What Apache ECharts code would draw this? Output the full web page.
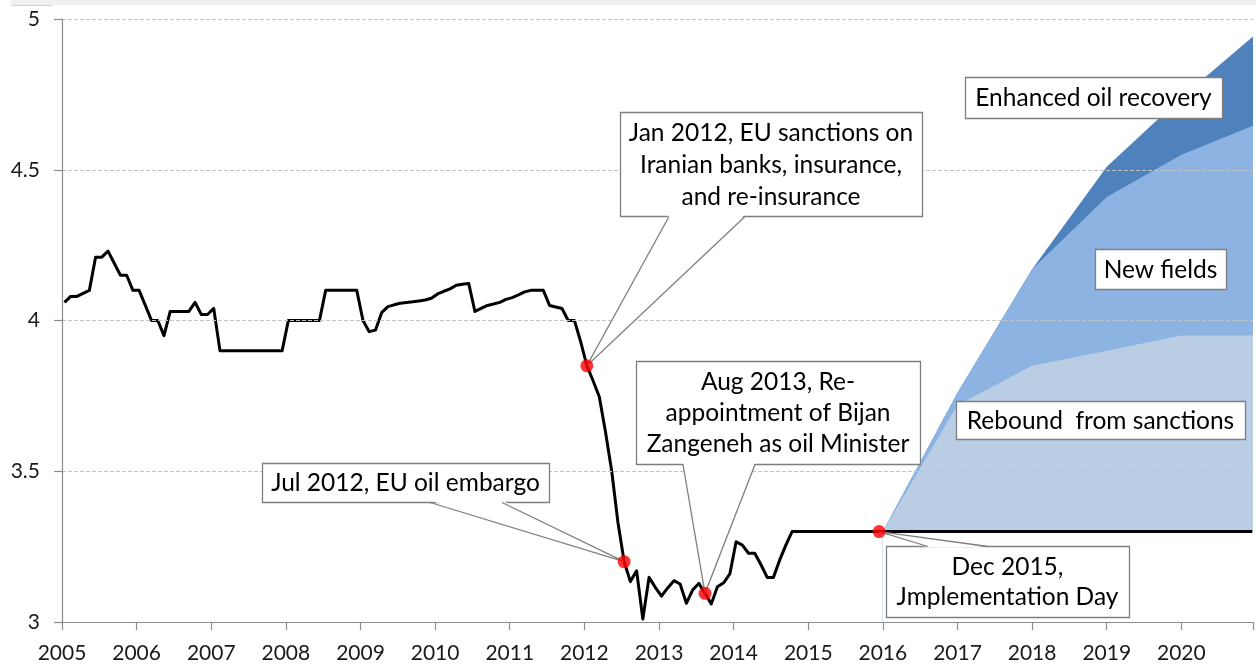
<!DOCTYPE html>
<html><head><meta charset="utf-8">
<script src="https://cdn.jsdelivr.net/npm/echarts@6/dist/echarts.min.js"></script>
<style>html,body{margin:0;padding:0;background:#fff}#c{width:1256px;height:664px}</style>
</head><body><div id="c"></div>
<script>
// ---------- data ----------
const startYear = 2005;
const xTickYears = [2005,2006,2007,2008,2009,2010,2011,2012,2013,2014,2015,2016,2017,2018,2019,2020];
const yTicks = [3, 3.5, 4, 4.5, 5];

const p2005 = [4.06,4.08,4.08,4.09,4.10,4.21,4.21,4.23,4.19,4.15,4.15,4.10];
const p2006 = [4.10,4.05,4.00,4.00,3.95,4.03,4.03,4.03,4.03,4.06,4.02,4.02];
const p2007 = [4.04,3.90,3.90,3.90,3.90,3.90,3.90,3.90,3.90,3.90,3.90,3.90];
const p2008 = [4.00,4.00,4.00,4.00,4.00,4.00,4.10,4.10,4.10,4.10,4.10,4.10];
const p2009 = [4.00,3.963,3.968,4.026,4.046,4.052,4.057,4.06,4.062,4.065,4.068,4.074];
const p2010 = [4.088,4.097,4.105,4.117,4.12,4.123,4.03,4.04,4.05,4.055,4.06,4.07];
const p2011 = [4.076,4.085,4.095,4.10,4.10,4.10,4.05,4.045,4.04,4.00,4.00,3.93];
const p2012 = [3.85,3.80,3.747,3.63,3.50,3.33,3.20,3.134,3.17,3.01,3.148,3.115];
const p2013 = [3.086,3.113,3.137,3.126,3.062,3.106,3.128,3.095,3.06,3.117,3.13,3.16];
const p2014 = [3.266,3.255,3.228,3.228,3.19,3.148,3.148,3.205,3.255,3.30,3.30,3.30];
const p2015 = [3.30,3.30,3.30,3.30,3.30,3.30,3.30,3.30,3.30,3.30,3.30,3.30];
const p2016 = [3.30,3.30,3.30,3.30,3.30,3.30,3.30,3.30,3.30,3.30,3.30,3.30];
const p2017 = [3.30,3.30,3.30,3.30,3.30,3.30,3.30,3.30,3.30,3.30,3.30,3.30];
const p2018 = [3.30,3.30,3.30,3.30,3.30,3.30,3.30,3.30,3.30,3.30,3.30,3.30];
const p2019 = [3.30,3.30,3.30,3.30,3.30,3.30,3.30,3.30,3.30,3.30,3.30,3.30];
const p2020 = [3.30,3.30,3.30,3.30,3.30,3.30,3.30,3.30,3.30,3.30,3.30,3.30];

const forecastYears = [2016, 2017, 2018, 2019, 2020, 2021];
const forecastBase  = [3.30, 3.30, 3.30, 3.30, 3.30, 3.30];
const reboundTop    = [3.30, 3.72, 3.85, 3.90, 3.95, 3.95];
const newFieldsTop  = [3.30, 3.76, 4.17, 4.41, 4.55, 4.65];
const eorTop        = [3.30, 3.76, 4.17, 4.51, 4.74, 4.95];
const forecastLabels = ['Rebound  from sanctions', 'New fields', 'Enhanced oil recovery'];

const eventMonths = ['2012-01', '2012-07', '2013-08', '2015-12'];
const eventTexts = [
  'Jan 2012, EU sanctions on\nIranian banks, insurance,\nand re-insurance',
  'Jul 2012, EU oil embargo',
  'Aug 2013, Re-\nappointment of Bijan\nZangeneh as oil Minister',
  'Dec 2015,\nJmplementation Day'
];

// ---------- build ----------
const monthly = [].concat(p2005,p2006,p2007,p2008,p2009,p2010,p2011,p2012,p2013,p2014,p2015,p2016,p2017,p2018,p2019,p2020);
const MONTH_POS = 0.4;
const lineData = monthly.map((v, i) => [startYear + (i + MONTH_POS) / 12, v]);
const eventPoints = eventMonths.map(s => {
  const [y, m] = s.split('-').map(Number);
  const idx = (y - startYear) * 12 + (m - 1);
  return lineData[idx];
});
const pairs = arr => forecastYears.map((x, i) => [x, arr[i]]);

const FONT = 'Lato, "Open Sans", sans-serif';
const chart = echarts.init(document.getElementById('c'));
function area(name, arr, color) {
  return { name, type: 'line', data: pairs(arr), symbol: 'none', silent: true,
    lineStyle: { opacity: 0, width: 0 }, areaStyle: { color, opacity: 1, origin: 'start' }, z: 2 };
}
const option = {
  animation: false,
  backgroundColor: '#ffffff',
  grid: { left: 62, right: 0, top: 19, bottom: 42, containLabel: false },
  xAxis: {
    type: 'value', min: 2005, max: 2020.96, interval: 1, z: 10,
    axisLine: { show: true, lineStyle: { color: '#8c8c8c', width: 1.2 } },
    axisTick: { show: true, length: 8, lineStyle: { color: '#8c8c8c', width: 1.2 } },
    axisLabel: { fontSize: 21, fontFamily: FONT, color: '#1a1a1a', margin: 21,
      formatter: v => xTickYears.indexOf(v) >= 0 ? String(v) : '' },
    splitLine: { show: false }
  },
  yAxis: {
    type: 'value', min: yTicks[0], max: yTicks[yTicks.length - 1], interval: 0.5, z: 10,
    axisLine: { show: true, lineStyle: { color: '#8c8c8c', width: 1.2 } },
    axisTick: { show: true, length: 8, lineStyle: { color: '#8c8c8c', width: 1.2 } },
    axisLabel: { fontSize: 21, fontFamily: FONT, color: '#1a1a1a', margin: 22,
      formatter: v => String(v) },
    splitLine: { show: true, lineStyle: { color: '#c4c4c4', width: 1, type: [4, 2] } }
  },
  series: [
    area(forecastLabels[2], eorTop, '#4f81bd'),
    area(forecastLabels[1], newFieldsTop, '#8db3e2'),
    area(forecastLabels[0], reboundTop, '#b9cde5'),
    area('mask', forecastBase, '#ffffff'),
    { name: 'Production', type: 'line', data: lineData, symbol: 'none',
      lineStyle: { color: '#000', width: 3, join: 'round' }, z: 5 },
    { name: 'Events', type: 'scatter', data: eventPoints, symbol: 'circle', symbolSize: 13,
      itemStyle: { color: '#ff0000' }, z: 100 }
  ]
};
chart.setOption(option);

// ---------- annotations (layout in pixels, tips from data) ----------
const BORDER = '#7f7f7f';
const boxes = [
  { x: 620, y: 112, w: 302, h: 104, side: 'bottom', b1: 669, b2: 745, lh: 32 },
  { x: 262, y: 463, w: 287, h: 39, side: 'bottom', b1: 430, b2: 502, lh: 32 },
  { x: 636, y: 361, w: 284, h: 103, side: 'bottom', b1: 683, b2: 755, lh: 31 },
  { x: 886, y: 546, w: 243, h: 71, side: 'top', b1: 928, b2: 988, lh: 30 }
];
const labelBoxes = [
  { x: 956, y: 401, w: 289, h: 38 },
  { x: 1095, y: 249, w: 131, h: 40 },
  { x: 965, y: 77, w: 257, h: 41 }
];
const graphics = [
  { type: 'rect', shape: { x: 11, y: 0, width: 1245, height: 5 }, style: { fill: '#f0f0f0' }, z: 200 },
  { type: 'line', shape: { x1: 11, y1: 5.5, x2: 53, y2: 5.5 }, style: { stroke: '#d4d4d4', lineWidth: 1 }, z: 200 }
];
function textEl(str, cx, cy, lh) {
  return { type: 'text', z: 60, style: { text: str, x: cx, y: cy, fill: '#000',
    fontSize: 24.5, fontFamily: FONT, lineHeight: lh,
    align: 'center', verticalAlign: 'middle', textAlign: 'center', textVerticalAlign: 'middle' } };
}
boxes.forEach((b, i) => {
  const tip = chart.convertToPixel({ gridIndex: 0 }, eventPoints[i]);
  const by = b.side === 'bottom' ? b.y + b.h : b.y;
  const inset = b.side === 'bottom' ? -1.5 : 1.5;
  graphics.push({ type: 'rect', z: 50, shape: { x: b.x + 0.5, y: b.y + 0.5, width: b.w, height: b.h },
    style: { fill: '#fff', stroke: BORDER, lineWidth: 1.3 } });
  graphics.push({ type: 'polygon', z: 51, shape: { points: [[b.b1, by + inset], tip, [b.b2, by + inset]] },
    style: { fill: '#fff' } });
  graphics.push({ type: 'polyline', z: 52, shape: { points: [[b.b1, by + 0.5], tip, [b.b2, by + 0.5]] },
    style: { stroke: BORDER, lineWidth: 1.3, fill: null } });
  graphics.push(textEl(eventTexts[i], b.x + b.w / 2, b.y + b.h / 2 + 1, b.lh));
});
labelBoxes.forEach((b, i) => {
  graphics.push({ type: 'rect', z: 50, shape: { x: b.x + 0.5, y: b.y + 0.5, width: b.w, height: b.h },
    style: { fill: '#fff', stroke: BORDER, lineWidth: 1.3 } });
  graphics.push(textEl(forecastLabels[i], b.x + b.w / 2, b.y + b.h / 2 + 1, 30));
});
chart.setOption({ graphic: { elements: graphics } });
</script>
</body></html>
